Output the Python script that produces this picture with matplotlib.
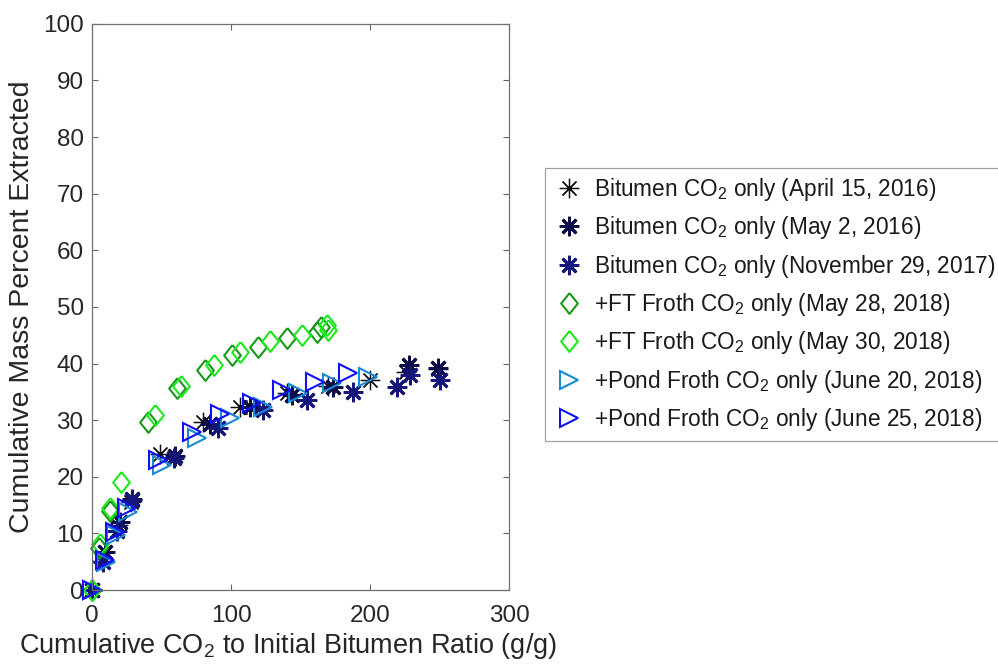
import matplotlib
matplotlib.use("Agg")
import matplotlib.pyplot as plt
import numpy as np

plt.rcParams['font.family'] = ['Liberation Sans', 'DejaVu Sans']
plt.rcParams['mathtext.default'] = 'regular'

# ---- data ----
apr15_x = [0, 7, 19, 28, 48.9, 80, 106.5, 140, 170, 200, 226, 249]
apr15_y = [0, 5.2, 11.5, 15.5, 24.1, 29.6, 32.4, 34.8, 36.0, 37.1, 38.5, 39.0]

may2_x = [0, 9, 20, 29, 60, 85, 113.7, 143.6, 173.6, 227.6, 249]
may2_y = [0, 6.8, 12.0, 16.0, 23.6, 29.4, 32.4, 34.5, 35.9, 39.8, 39.2]

nov29_x = [0, 8, 18, 28.5, 59, 90.9, 123.2, 154.4, 188, 219.2, 228.7, 250]
nov29_y = [0, 5.0, 10.5, 15.9, 23.4, 28.6, 31.8, 33.6, 35.0, 35.9, 38.0, 37.1]

may28_x = [0, 5, 13, 40.5, 61, 81.3, 100.5, 119.7, 140, 161.6, 165]
may28_y = [0, 7.5, 14.0, 29.7, 35.6, 38.9, 41.5, 43.0, 44.5, 45.6, 46.5]

may30_x = [0, 6, 13, 20.5, 45, 64, 88, 106.5, 128, 150.8, 168.8, 170]
may30_y = [0, 8.2, 14.4, 19.0, 30.9, 36.0, 39.7, 42.1, 43.9, 45.1, 46.8, 45.9]

jun20_x = [0, 10, 17, 26, 50, 75.3, 99.3, 123.2, 148.4, 172.4, 198.8]
jun20_y = [0, 5.0, 9.8, 13.8, 22.1, 26.8, 30.3, 32.4, 34.8, 36.5, 37.7]

jun25_x = [0, 9.4, 16.5, 25, 47.7, 71.7, 92, 114.9, 136.5, 160.4, 184.4]
jun25_y = [0, 5.3, 10.3, 14.4, 23.0, 27.9, 31.0, 33.0, 35.3, 36.8, 38.3]

labels = [
    'Bitumen CO$_2$ only (April 15, 2016)',
    'Bitumen CO$_2$ only (May 2, 2016)',
    'Bitumen CO$_2$ only (November 29, 2017)',
    '+FT Froth CO$_2$ only (May 28, 2018)',
    '+FT Froth CO$_2$ only (May 30, 2018)',
    '+Pond Froth CO$_2$ only (June 20, 2018)',
    '+Pond Froth CO$_2$ only (June 25, 2018)',
]

xticks = [0, 100, 200, 300]
yticks = [0, 10, 20, 30, 40, 50, 60, 70, 80, 90, 100]

fig = plt.figure(figsize=(9.98, 6.67), dpi=100)
ax = fig.add_axes([0.0922, 0.1154, 0.418, 0.849])

ast = (8, 2, 0)
diamond = [(0, 1), (0.8, 0), (0, -1), (-0.8, 0), (0, 1)]

series = [
    (apr15_x, apr15_y, dict(marker=ast, color='#111111', ms=14, mew=0.9)),
    (may2_x, may2_y, dict(marker=ast, color='#0c0c48', ms=14, mew=2.0)),
    (nov29_x, nov29_y, dict(marker=ast, color='#16167a', ms=14, mew=2.0)),
    (may28_x, may28_y, dict(marker=diamond, color='#169a16', ms=15, mew=1.5, mfc='none')),
    (may30_x, may30_y, dict(marker=diamond, color='#1ee81e', ms=15, mew=1.5, mfc='none')),
    (jun20_x, jun20_y, dict(marker='>', color='#1a8ad4', ms=13, mew=1.5, mfc='none')),
    (jun25_x, jun25_y, dict(marker='>', color='#1010f5', ms=13, mew=1.5, mfc='none')),
]

for (x, y, st), lab in zip(series, labels):
    ax.plot(x, y, linestyle='none', label=lab, clip_on=False, **st)

ax.set_xlim(0, 300)
ax.set_ylim(0, 100)
ax.set_xticks(xticks)
ax.set_yticks(yticks)
ax.tick_params(direction='in', length=4, width=0.8, colors='#666666',
               labelcolor='#262626', labelsize=17.5, top=True, right=True)
ax.tick_params(axis='x', pad=11)
ax.tick_params(axis='y', pad=6)
for s in ax.spines.values():
    s.set_color('#707070')
    s.set_linewidth(0.9)

ax.set_xlabel('Cumulative CO$_2$ to Initial Bitumen Ratio (g/g)', fontsize=19.5,
              color='#262626')
ax.xaxis.set_label_coords(0.47, -0.072)
ax.set_ylabel('Cumulative Mass Percent Extracted', fontsize=20.5,
              color='#262626', labelpad=6)

leg = fig.legend(loc='upper left', bbox_to_anchor=(0.546, 0.748),
                 fontsize=16.3, frameon=True, fancybox=False,
                 edgecolor='#8a8a8a', borderaxespad=0, labelspacing=0.5,
                 handletextpad=0.4, handlelength=1.4, borderpad=0.35,
                 numpoints=1)
leg.get_frame().set_linewidth(0.9)
for t in leg.get_texts():
    t.set_color('#1a1a1a')

fig.savefig('out.png', dpi=100)
